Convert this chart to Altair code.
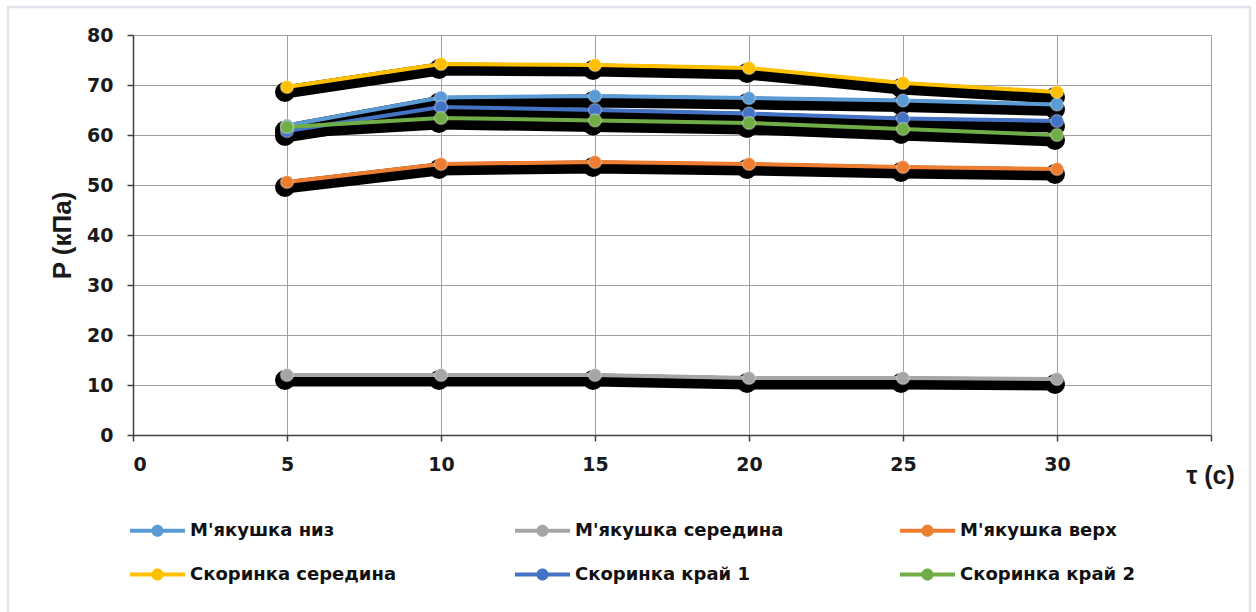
import altair as alt
import pandas as pd

# ---- data ----
t_values = [5, 10, 15, 20, 25, 30]
series_names = [
    "М'якушка низ",
    "М'якушка середина",
    "М'якушка верх",
    "Скоринка середина",
    "Скоринка край 1",
    "Скоринка край 2",
]
myakushka_nyz = [61.9, 67.5, 67.8, 67.4, 66.9, 66.1]
myakushka_seredyna = [12.0, 12.0, 12.0, 11.4, 11.4, 11.2]
myakushka_verkh = [50.6, 54.2, 54.6, 54.2, 53.6, 53.2]
skorynka_seredyna = [69.6, 74.2, 74.0, 73.4, 70.4, 68.6]
skorynka_krai1 = [60.8, 65.6, 65.0, 64.3, 63.3, 62.8]
skorynka_krai2 = [61.6, 63.4, 62.9, 62.4, 61.2, 60.0]
series_colors = ["#5B9BD5", "#A5A5A5", "#ED7D31", "#FFC000", "#4472C4", "#70AD47"]

all_values = [myakushka_nyz, myakushka_seredyna, myakushka_verkh,
              skorynka_seredyna, skorynka_krai1, skorynka_krai2]

rows = []
for i, (name, vals) in enumerate(zip(series_names, all_values)):
    for t, v in zip(t_values, vals):
        rows.append({"t": t, "P": v, "series": name, "name": name, "order": i})
df = pd.DataFrame(rows)

x_enc = alt.X("t:Q", scale=alt.Scale(domain=[0, 35], nice=False),
              axis=alt.Axis(values=[0, 5, 10, 15, 20, 25, 30, 35],
                            labelExpr="datum.value == 35 ? '' : datum.label",
                            title="τ (с)", titleX=1077, titleY=40,
                            titleAlign="center", titleBaseline="middle",
                            titleFont="Liberation Sans", titleFontSize=25,
                            titleFontWeight="bold", titleColor="#1a1a1a",
                            labelPadding=14))
y_enc = alt.Y("P:Q", scale=alt.Scale(domain=[0, 80], nice=False),
              axis=alt.Axis(values=[0, 10, 20, 30, 40, 50, 60, 70, 80],
                            title="P (кПа)", titleX=-71, titleY=200, titleAngle=-90,
                            titleAlign="center", titleBaseline="middle",
                            titleFont="Liberation Sans", titleFontSize=26,
                            titleFontWeight="bold", titleColor="#1a1a1a",
                            labelPadding=14))

base = alt.Chart(df)

shadow_lines = base.mark_line(color="black", strokeWidth=13, xOffset=-2, yOffset=5,
                              strokeCap="round", strokeJoin="round").encode(
    x=x_enc, y=y_enc, detail="series:N", order="t:Q")
shadow_points = base.mark_circle(color="black", size=400, opacity=1, xOffset=-2, yOffset=5).encode(
    x="t:Q", y="P:Q")

# stroke scale uses the reversed order so that its (hidden) legend is not merged with the fill legend
lines = base.mark_line(strokeWidth=4, strokeJoin="round").encode(
    x="t:Q", y="P:Q",
    stroke=alt.Stroke("series:N", scale=alt.Scale(domain=series_names[::-1],
                                                  range=series_colors[::-1]),
                      legend=None),
    order="t:Q")

legend_symbol = ("M-1,-0.075H-0.2V0.075H-1Z M0.2,-0.075H1V0.075H0.2Z "
                 "M0.22,0A0.22,0.22 0 1,1 -0.22,0A0.22,0.22 0 1,1 0.22,0Z")

points = base.mark_point(filled=True, size=170, opacity=1, stroke="white",
                         strokeOpacity=0.3, strokeWidth=1.5).encode(
    x="t:Q", y="P:Q",
    fill=alt.Fill("name:N", scale=alt.Scale(domain=series_names, range=series_colors),
                  legend=alt.Legend(title=None, orient="none", legendX=-3, legendY=468,
                                    columns=3, direction="horizontal", gridAlign="all",
                                    columnPadding=116, rowPadding=7, padding=0,
                                    symbolType=legend_symbol, symbolSize=3025,
                                    symbolStrokeWidth=0, symbolOpacity=1,
                                    labelFont="DejaVu Sans", labelFontSize=18,
                                    labelFontWeight="bold", labelColor="#111111",
                                    labelOffset=5, labelLimit=400)))

frame = alt.Chart(pd.DataFrame({"a": [0]})).mark_rect(
    fill="transparent", stroke="#E1E5EB", strokeWidth=2.5).encode(
    x=alt.value(-125), x2=alt.value(1117), y=alt.value(-28), y2=alt.value(590))

chart = alt.layer(frame, shadow_lines, shadow_points, lines, points).properties(
    width=1078, height=400,
    autosize=alt.AutoSizeParams(type="none"),
    padding={"left": 133, "top": 35, "right": 45, "bottom": 177},
    background="white",
).configure_view(stroke=None).configure_axis(
    labelFont="DejaVu Sans", labelFontSize=19, labelFontWeight="bold", labelColor="#1a1a1a",
    gridColor="#A0A0A0", gridWidth=1, gridOpacity=1,
    domainColor="#404040", domainWidth=1.5,
    tickColor="#404040", tickWidth=1.5, tickSize=6,
)

chart.save("out.html", embed_options={"renderer": "svg", "actions": False})
